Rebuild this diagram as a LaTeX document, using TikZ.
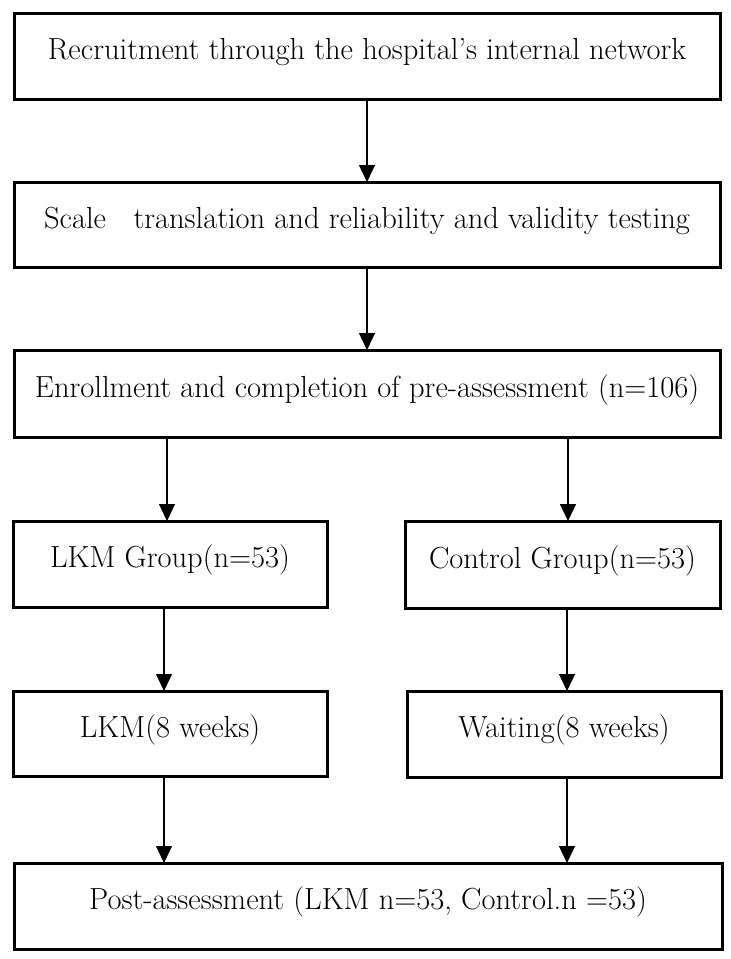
\documentclass[tikz,border=0pt]{standalone}
\usetikzlibrary{arrows.meta}
\begin{document}
\begin{tikzpicture}[x=1pt,y=-1pt,
  box/.style={draw=black,line width=3pt,rectangle,outer sep=0pt,inner sep=0pt,
    font=\fontsize{30.5}{36}\selectfont,text height=18pt,text depth=11pt,align=center},
  arr/.style={line width=1.2pt,-{Triangle[length=17pt,width=16pt]}}]
\useasboundingbox[fill=white] (0,0) rectangle (731,959);
\node[box,minimum width=706pt,minimum height=86pt] (b1) at (367,56) {Recruitment through the hospital's internal network};
\node[box,minimum width=706pt,minimum height=85pt] (b2) at (367,224.5) {Scale\hspace{0.6em} translation and reliability and validity testing};
\node[box,minimum width=706pt,minimum height=87pt] (b3) at (367,393.5) {Enrollment and completion of pre-assessment (n=106)};
\node[box,minimum width=314pt,minimum height=86pt] (lg) at (170,564) {LKM Group(n=53)};
\node[box,minimum width=315pt,minimum height=87pt] (cg) at (562.5,564.5) {Control Group(n=53)};
\node[box,minimum width=314pt,minimum height=85pt] (lw) at (170,733.5) {LKM(8 weeks)};
\node[box,minimum width=314pt,minimum height=86pt] (ww) at (564,734) {Waiting(8 weeks)};
\node[box,minimum width=708pt,minimum height=86pt] (post) at (368,906) {Post-assessment (LKM n=53, Control.n =53)};
\draw[arr] (b1.south) -- (b2.north);
\draw[arr] (b2.south) -- (b3.north);
\draw[arr] ([xshift=-3pt]b3.south -| lg.north) -- ([xshift=-3pt]lg.north);
\draw[arr] ([xshift=5.5pt]b3.south -| cg.north) -- ([xshift=5.5pt]cg.north);
\draw[arr] ([xshift=-6pt]lg.south) -- ([xshift=-6pt]lw.north);
\draw[arr] ([xshift=4.5pt]cg.south) -- ([xshift=4.5pt]cg.south |- ww.north);
\draw[arr] ([xshift=-6pt]lw.south) -- ([xshift=-6pt]lw.south |- post.north);
\draw[arr] ([xshift=3pt]ww.south) -- ([xshift=3pt]ww.south |- post.north);
\end{tikzpicture}
\end{document}
